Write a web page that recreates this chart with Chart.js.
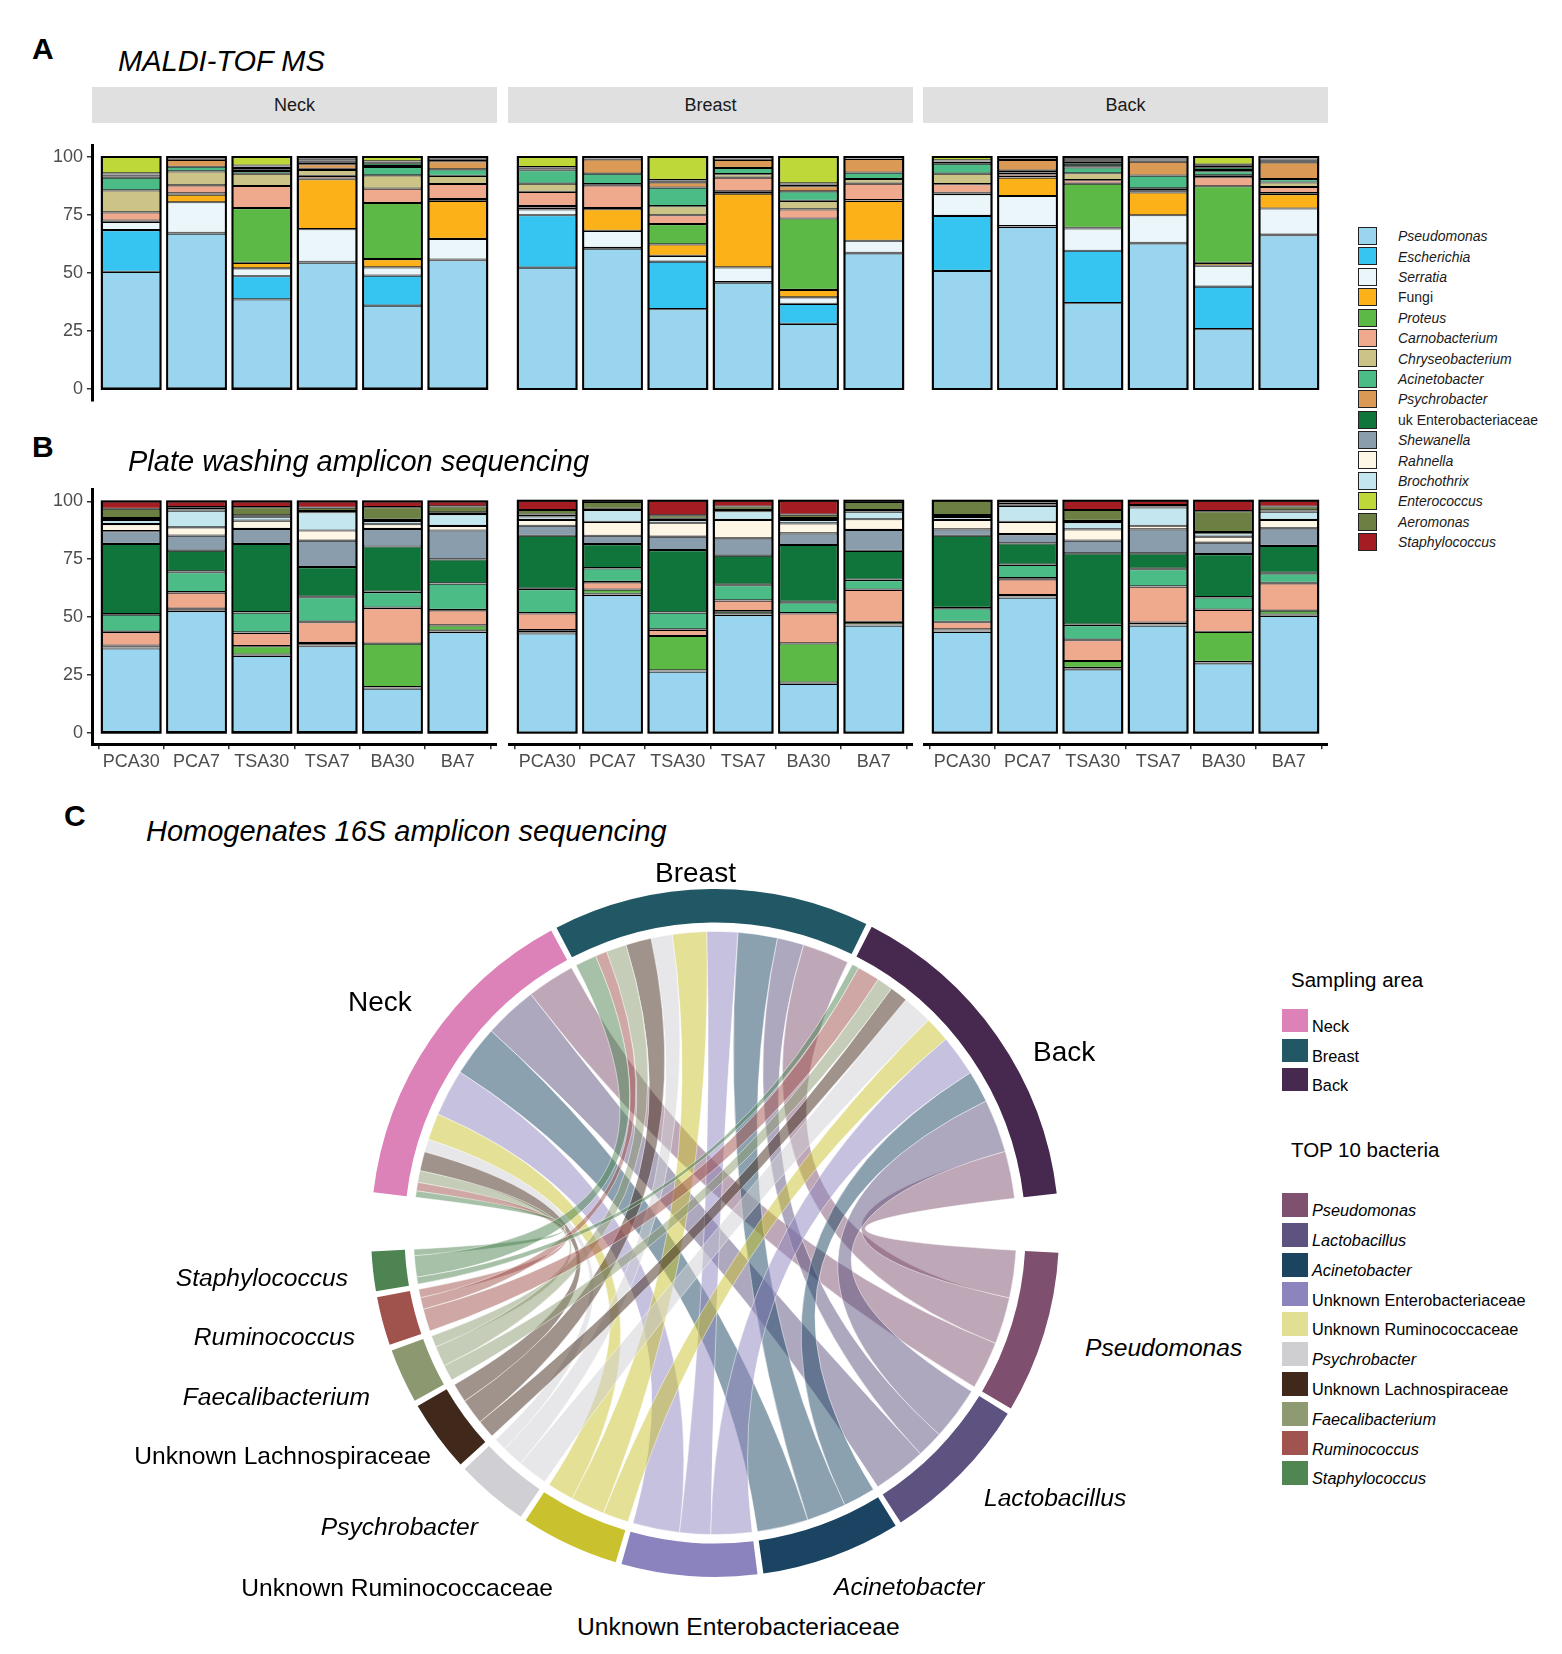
<!DOCTYPE html>
<html>
<head>
<meta charset="utf-8">
<script src="https://cdn.jsdelivr.net/npm/chart.js@4.4.1/dist/chart.umd.min.js"></script>
<style>
  body { margin: 0; width: 1562px; height: 1654px; position: relative; overflow: hidden;
         background: #fff; font-family: "Liberation Sans", Arial, sans-serif; color: #000; }
  .abs { position: absolute; white-space: nowrap; line-height: 1; z-index: 2; }
  canvas { position: absolute; z-index: 1; }
  .strip { position: absolute; top: 87px; height: 36px; width: 405px; background: #e0e0e0;
           display: flex; align-items: center; justify-content: center; font-size: 18px; color: #1a1a1a; }
  .key { position: absolute; box-sizing: border-box; z-index: 2; }
</style>
</head>
<body>

<div class="strip" style="left:92px">Neck</div>
<div class="strip" style="left:508px">Breast</div>
<div class="strip" style="left:923px">Back</div>

<canvas id="aNeck" width="457" height="290" style="left:40px;top:130px"></canvas>
<canvas id="aBreast" width="405" height="290" style="left:508px;top:130px"></canvas>
<canvas id="aBack" width="405" height="290" style="left:923px;top:130px"></canvas>

<canvas id="bNeck" width="457" height="310" style="left:40px;top:475px"></canvas>
<canvas id="bBreast" width="405" height="310" style="left:508px;top:475px"></canvas>
<canvas id="bBack" width="405" height="310" style="left:923px;top:475px"></canvas>

<canvas id="chord" width="720" height="720" style="left:355px;top:873px"></canvas>

<script>
// ---- panel A / B data: one row per sample, one value per taxon (bottom to top) ----
const samples = ["PCA30", "PCA7", "TSA30", "TSA7", "BA30", "BA7"];
const taxa = ["Pseudomonas", "Escherichia", "Serratia", "Fungi", "Proteus", "Carnobacterium",
  "Chryseobacterium", "Acinetobacter", "Psychrobacter", "uk Enterobacteriaceae", "Shewanella",
  "Rahnella", "Brochothrix", "Enterococcus", "Aeromonas", "Staphylococcus"];
const taxaColors = ["#9ad5ef", "#36c5f1", "#eaf6fa", "#fbb117", "#5cb946", "#efaa8e",
  "#ccc486", "#4cbc86", "#da9a55", "#10753b", "#8a9dac", "#fff7e6",
  "#c4e7ef", "#bfd839", "#6b8042", "#a31d22"];
const uprightTaxa = ["Fungi", "uk Enterobacteriaceae"];

const maldiNeck = [
  [50.5, 18, 3.5, 0.3, 0.3, 3.5, 9.5, 5.5, 0.5, 0.5, 0.3, 0.2, 0.3, 7.1, 0, 0],
  [67, 0.3, 13.2, 3.3, 0.5, 3.5, 6, 2, 3, 0.5, 0.3, 0.2, 0.2, 0, 0, 0],
  [38.6, 10, 3.4, 2.4, 23.6, 9.5, 5.3, 1.2, 0.5, 0.8, 0.5, 0.2, 0.3, 3.7, 0, 0],
  [54.5, 0.3, 14.1, 21.5, 0.3, 1.2, 2.5, 0.5, 2.0, 0.8, 0.5, 0.3, 0.3, 0.5, 0.3, 0.4],
  [35.9, 13, 3.5, 3.6, 24.2, 6.2, 5.7, 3.6, 0.4, 1.2, 0.4, 0.2, 0.2, 1.9, 0, 0],
  [55.5, 0.3, 8.9, 16.4, 0.8, 6.5, 3.5, 2.8, 3.5, 0.6, 0.3, 0.3, 0.2, 0.2, 0.2, 0]
];
const maldiBreast = [
  [52.3, 22.6, 2.5, 0.8, 0.7, 6.1, 3.5, 5.8, 0.3, 0.5, 0.2, 0.2, 0.2, 4.3, 0, 0],
  [60.5, 0.3, 7.4, 9.3, 0.5, 9.8, 0.5, 4.5, 6.2, 0.3, 0.2, 0.2, 0.1, 0.2, 0, 0],
  [34.4, 20.5, 2.5, 4.9, 8.8, 3.8, 3.9, 8.0, 2.3, 0.4, 0.2, 0.2, 0.2, 9.9, 0, 0],
  [45.8, 0.3, 6.3, 31.8, 1.0, 5.9, 1.5, 2.7, 3.5, 0.4, 0.2, 0.2, 0.2, 0.2, 0, 0],
  [28.1, 8.6, 2.8, 3.2, 30.8, 3.9, 3.7, 4.1, 2.2, 0.5, 0.3, 0.2, 0.2, 11.4, 0, 0],
  [58.5, 0.2, 5.2, 17.2, 0.3, 7.1, 2.0, 2.8, 5.9, 0.3, 0.2, 0.1, 0.1, 0.1, 0, 0]
];
const maldiBack = [
  [50.9, 23.7, 9.4, 0.3, 0.3, 3.7, 4.5, 4.3, 0.3, 0.5, 0.3, 0.2, 0.2, 1.4, 0, 0],
  [69.9, 0.3, 13, 7.9, 0.2, 1.2, 0.8, 0.8, 4.6, 0.4, 0.3, 0.2, 0.2, 0.2, 0, 0],
  [37, 22.6, 9.6, 0.3, 19, 1.5, 3, 2.5, 0.5, 1.1, 0.7, 0.4, 0.4, 0.4, 0.5, 0.5],
  [62.8, 0.2, 11.9, 9.8, 0.3, 0.5, 1.0, 5.5, 6.0, 0.5, 0.4, 0.4, 0.3, 0.2, 0, 0.2],
  [25.8, 18.3, 9.1, 1.2, 33, 3.9, 0.8, 1.8, 0.5, 1.2, 0.5, 0.3, 0.3, 3.3, 0, 0],
  [66.3, 0.2, 11.3, 6.2, 0.4, 2.7, 1.9, 1.5, 7.2, 0.5, 0.4, 0.3, 0.3, 0.3, 0.2, 0.3]
];

const plateNeck = [
  [36.4, 0.3, 0.3, 0.2, 0.5, 5.8, 0.2, 7.3, 0.3, 30.3, 5.5, 3.1, 1.8, 0.8, 4.0, 3.2],
  [52.6, 0.2, 0.2, 0.2, 0.4, 7.0, 0.2, 8.6, 0.3, 9.0, 6.5, 3.6, 7.2, 0.5, 1.0, 2.5],
  [33.2, 0.2, 0.2, 0.2, 3.6, 5.8, 0.2, 8.5, 0.2, 29.5, 6.5, 3.6, 1.7, 0.6, 3.5, 2.5],
  [37.4, 0.2, 0.2, 0.2, 0.8, 9.0, 0.2, 10.6, 0.2, 12.8, 11.4, 4.4, 7.9, 0.5, 1.5, 2.7],
  [19.1, 0.2, 0.2, 0.2, 18.8, 15.4, 0.2, 6.7, 0.2, 19.5, 7.6, 2.0, 1.4, 0.5, 5.5, 2.5],
  [43.5, 0.2, 0.2, 0.2, 2.3, 6.5, 0.2, 11.3, 0.2, 10.3, 12.5, 2.0, 5.1, 0.8, 2.5, 2.2]
];
const plateBreast = [
  [42.8, 0.2, 0.2, 0.2, 0.8, 7.2, 0.2, 10.3, 0.2, 22.8, 4.3, 2.5, 1.5, 0.8, 2.0, 4.0],
  [59.3, 0.2, 0.2, 0.2, 1.8, 3.1, 0.2, 5.8, 0.2, 10.3, 3.6, 6.0, 5.1, 0.5, 3.0, 0.5],
  [26.3, 0.2, 0.2, 0.2, 14.8, 2.6, 0.2, 7.2, 0.2, 26.8, 5.8, 6.0, 1.2, 0.5, 1.5, 6.3],
  [50.7, 0.2, 0.2, 0.2, 1.1, 4.5, 0.2, 6.5, 0.2, 12.5, 7.5, 7.9, 3.8, 0.5, 1.5, 2.5],
  [21, 0.2, 0.2, 0.2, 16.9, 12.9, 0.2, 4.6, 0.2, 24.5, 5.0, 4.3, 1.5, 0.8, 1.5, 6.0],
  [46.1, 0.2, 0.2, 0.2, 1.1, 13.7, 0.2, 4.1, 0.2, 12.4, 9.0, 4.6, 3.3, 0.7, 3.5, 0.5]
];
const plateBack = [
  [43.5, 0.2, 0.2, 0.2, 0.4, 3.1, 0.2, 5.8, 0.2, 31.1, 2.7, 4.1, 1.3, 0.8, 6.2, 0],
  [58.2, 0.2, 0.2, 0.2, 0.5, 6.8, 0.5, 5.7, 0.2, 9.1, 4.0, 5.3, 6.9, 0.6, 0.8, 0.8],
  [27.3, 0.2, 0.2, 0.2, 3.0, 9.0, 0.2, 6.3, 0.2, 30.7, 5.5, 4.8, 3.2, 0.5, 4.7, 4.0],
  [46.1, 0.2, 0.2, 0.2, 0.8, 15.4, 0.2, 7.4, 0.2, 6.6, 10.3, 1.6, 7.9, 0.4, 0.6, 1.9],
  [29.9, 0.2, 0.2, 0.2, 13, 9.4, 0.2, 5.2, 0.2, 18.5, 4.9, 2.6, 1.5, 0.5, 9.0, 4.5],
  [50.3, 0.2, 0.2, 0.2, 1.7, 11.8, 0.2, 4.1, 0.2, 11.6, 7.6, 3.6, 3.6, 0.5, 1.7, 2.5]
];
const yTicks = [0, 25, 50, 75, 100];

// ---- panel C data: chord links bacteria -> sampling area ----
const areas = ["Neck", "Breast", "Back"];
const areaColors = ["#dc82b8", "#225866", "#47284f"];
const bacteria = ["Pseudomonas", "Lactobacillus", "Acinetobacter", "Unknown Enterobacteriaceae",
  "Unknown Ruminococcaceae", "Psychrobacter", "Unknown Lachnospiraceae", "Faecalibacterium",
  "Ruminococcus", "Staphylococcus"];
const bacteriaColors = ["#7e4f6e", "#5d5280", "#1a4461", "#8b83be", "#c9c22e",
  "#d0cfd4", "#40281a", "#8c9970", "#a0524c", "#4e8451"];
const bacteriaKeyColors = ["#7f506f", "#5e5281", "#1b4461", "#8c84bc", "#e2de93",
  "#cfced1", "#40281a", "#8e9a71", "#a1534f", "#4f8652"];
const linkNeck = [9.0, 10, 9.6, 8.8, 5.0, 2.4, 3.6, 2.2, 1.6, 1.2];
const linkBreast = [8.8, 5.0, 7.4, 5.8, 6.4, 4.0, 4.8, 3.8, 2.2, 4.0];
const linkBack = [8.9, 10, 6.0, 7.7, 4.8, 5.6, 3.4, 3.0, 4.2, 1.3];

// ---------------------------------------------------------------
Chart.defaults.font.family = '"Liberation Sans", Arial, sans-serif';
Chart.defaults.animation = false;

function addText(str, x, base, size, o = {}) {
  const d = document.createElement("div");
  d.className = "abs";
  d.textContent = str;
  d.style.fontSize = size + "px";
  d.style.top = (base - 0.85 * size) + "px";
  if (o.right) d.style.right = (1562 - x) + "px";
  else d.style.left = x + "px";
  if (o.italic) d.style.fontStyle = "italic";
  if (o.bold) d.style.fontWeight = "bold";
  if (o.color) d.style.color = o.color;
  document.body.appendChild(d);
}

function addKey(x, y, w, h, color, border) {
  const k = document.createElement("div");
  k.className = "key";
  k.style.cssText += `left:${x}px;top:${y}px;width:${w}px;height:${h}px;background:${color};` +
    (border ? "border:1px solid #222;" : "");
  document.body.appendChild(k);
}

function fade(hex, a) {
  const n = parseInt(hex.slice(1), 16);
  return `rgba(${n >> 16},${(n >> 8) & 255},${n & 255},${a})`;
}

// black outline round every stacked column, like ggplot's colour = "black"
const outlinePlugin = {
  id: "outline",
  afterDatasetsDraw(chart) {
    const ctx = chart.ctx;
    const ys = chart.scales.y;
    const first = chart.getDatasetMeta(0).data;
    const rows = chart.config.options.rowsRef;
    ctx.save();
    ctx.strokeStyle = "#000";
    ctx.lineWidth = 2;
    first.forEach((el, i) => {
      const total = rows[i].reduce((s, v) => s + v, 0);
      const top = ys.getPixelForValue(total), bottom = ys.getPixelForValue(0);
      ctx.strokeRect(el.x - el.width / 2, top, el.width, bottom - top);
    });
    ctx.restore();
  }
};

const tickFont = { size: 18 };
const tickColor = "#4d4d4d";

function facetChart(id, rows, showY, showX, padTop, padBottom, xHeight) {
  const datasets = taxa.map((name, t) => ({
    label: name,
    data: rows.map((r, i) => ({ x: i + 1, y: r[t] || null })),
    backgroundColor: taxaColors[t],
    borderColor: "#000",
    borderWidth: 1.1,
    borderSkipped: false,
    inflateAmount: 0,
    barPercentage: 0.9,
    categoryPercentage: 1
  }));
  return new Chart(document.getElementById(id), {
    type: "bar",
    data: { datasets },
    plugins: [outlinePlugin],
    options: {
      rowsRef: rows,
      responsive: false,
      events: [],
      layout: { padding: { top: padTop, bottom: padBottom, left: 0, right: 0 } },
      plugins: { legend: { display: false }, tooltip: { enabled: false } },
      scales: {
        x: {
          type: "linear", min: 0.4, max: 6.6, offset: false, stacked: true, display: showX,
          afterBuildTicks: (s) => { s.ticks = samples.map((_, i) => ({ value: i + 1 })); },
          afterFit: (s) => { if (showX) s.height = xHeight; },
          ticks: { callback: (v) => samples[v - 1], font: tickFont, color: tickColor,
                   padding: 2, autoSkip: false, maxRotation: 0 },
          grid: { display: true, drawOnChartArea: false, drawTicks: true, tickLength: 5,
                  color: "#333", lineWidth: 1.5 },
          border: { display: true, color: "#000", width: 3 }
        },
        y: {
          min: -5, max: 105, stacked: true, display: showY,
          afterBuildTicks: (s) => { s.ticks = yTicks.map((v) => ({ value: v })); },
          afterFit: (s) => { if (showY) s.width = 52; },
          ticks: { font: tickFont, color: tickColor, padding: 4 },
          grid: { display: true, drawOnChartArea: false, drawTicks: true, tickLength: 5,
                  color: "#333", lineWidth: 1.5 },
          border: { display: true, color: "#000", width: 3 }
        }
      }
    }
  });
}

facetChart("aNeck", maldiNeck, true, false, 15.4, 19.4, 0);
facetChart("aBreast", maldiBreast, false, false, 15.4, 19.4, 0);
facetChart("aBack", maldiBack, false, false, 15.4, 19.4, 0);
facetChart("bNeck", plateNeck, true, true, 14.1, 0, 40.7);
facetChart("bBreast", plateBreast, false, true, 14.1, 0, 40.7);
facetChart("bBack", plateBack, false, true, 14.1, 0, 40.7);

// ---- chord diagram: sectors as a doughnut, links drawn from its arcs ----
const sum = (a) => a.reduce((s, v) => s + v, 0);
const links = [linkNeck, linkBreast, linkBack];
const totalsB = bacteria.map((_, k) => links.reduce((s, l) => s + l[k], 0));
const totalsA = links.map(sum);
const S = sum(totalsB);
const smallGapDeg = 1.0, bigGapDeg = 9.9;
const unitsPerDeg = 2 * S / (360 - 11 * smallGapDeg - 2 * bigGapDeg);
const chordValues = [], chordColors = [];
bacteria.forEach((_, k) => {
  chordValues.push(totalsB[k], (k < bacteria.length - 1 ? smallGapDeg : bigGapDeg) * unitsPerDeg);
  chordColors.push(bacteriaColors[k], "rgba(0,0,0,0)");
});
areas.forEach((_, j) => {
  chordValues.push(totalsA[j], (j < areas.length - 1 ? smallGapDeg : bigGapDeg) * unitsPerDeg);
  chordColors.push(areaColors[j], "rgba(0,0,0,0)");
});

const ribbonPlugin = {
  id: "ribbons",
  afterDatasetsDraw(chart) {
    const arcs = chart.getDatasetMeta(0).data;
    const cx = arcs[0].x, cy = arcs[0].y, r = arcs[0].innerRadius - 9;
    const aBase = 2 * bacteria.length;
    const bacSpan = bacteria.map((_, k) => {
      const arc = arcs[2 * k];
      const per = (arc.endAngle - arc.startAngle) / totalsB[k];
      let a = arc.startAngle;
      const out = [];
      for (let j = areas.length - 1; j >= 0; j--) {
        const w = links[j][k] * per;
        out[j] = [a, a + w];
        a += w;
      }
      return out;
    });
    const areaSpan = areas.map((_, j) => {
      const arc = arcs[aBase + 2 * j];
      const per = (arc.endAngle - arc.startAngle) / totalsA[j];
      let a = arc.startAngle;
      const out = [];
      for (let k = bacteria.length - 1; k >= 0; k--) {
        const w = links[j][k] * per;
        out[k] = [a, a + w];
        a += w;
      }
      return out;
    });
    const ctx = chart.ctx;
    ctx.save();
    bacteria.forEach((_, k) => {
      areas.forEach((_, j) => {
        const [s0, s1] = bacSpan[k][j];
        const [t0, t1] = areaSpan[j][k];
        ctx.beginPath();
        ctx.arc(cx, cy, r, s0, s1);
        ctx.quadraticCurveTo(cx, cy, cx + r * Math.cos(t0), cy + r * Math.sin(t0));
        ctx.arc(cx, cy, r, t0, t1);
        ctx.quadraticCurveTo(cx, cy, cx + r * Math.cos(s0), cy + r * Math.sin(s0));
        ctx.closePath();
        ctx.fillStyle = fade(bacteriaColors[k], 0.5);
        ctx.fill();
        ctx.strokeStyle = "rgba(255,255,255,0.6)";
        ctx.lineWidth = 0.8;
        ctx.stroke();
      });
    });
    ctx.restore();
  }
};

new Chart(document.getElementById("chord"), {
  type: "doughnut",
  data: { labels: chordValues.map((_, i) => i), datasets: [{
    data: chordValues, backgroundColor: chordColors, borderWidth: 0, hoverOffset: 0 }] },
  plugins: [ribbonPlugin],
  options: {
    responsive: false, events: [],
    radius: 344, cutout: 325, rotation: 93.3,
    layout: { padding: 0 },
    plugins: { legend: { display: false }, tooltip: { enabled: false } }
  }
});

// ---- titles and labels ----
addText("A", 32, 59, 30, { bold: true });
addText("MALDI-TOF MS", 118, 72, 29, { italic: true });
addText("B", 32, 457, 30, { bold: true });
addText("Plate washing amplicon sequencing", 128, 472, 29, { italic: true });
addText("C", 64, 826, 30, { bold: true });
addText("Homogenates 16S amplicon sequencing", 146, 842, 29, { italic: true });

// panel A/B legend
taxa.forEach((name, i) => {
  const cy = 236 + 20.4 * i;
  addKey(1358, cy - 9, 19, 18, taxaColors[i], true);
  addText(name, 1398, cy + 5, 14, { italic: !uprightTaxa.includes(name), color: "#1a1a1a" });
});

// chord labels
addText("Breast", 655, 883, 28);
addText("Neck", 348, 1012, 28);
addText("Back", 1033, 1062, 28);
addText("Pseudomonas", 1085, 1357, 24.6, { italic: true });
addText("Lactobacillus", 984, 1507, 24.6, { italic: true });
addText("Acinetobacter", 834, 1596, 24.6, { italic: true });
addText("Unknown Enterobacteriaceae", 577, 1636, 24.6);
addText("Unknown Ruminococcaceae", 553, 1597, 24.6, { right: true });
addText("Psychrobacter", 478, 1536, 24.6, { italic: true, right: true });
addText("Unknown Lachnospiraceae", 431, 1465, 24.6, { right: true });
addText("Faecalibacterium", 370, 1406, 24.6, { italic: true, right: true });
addText("Ruminococcus", 355, 1346, 24.6, { italic: true, right: true });
addText("Staphylococcus", 348, 1287, 24.6, { italic: true, right: true });

// chord legend
addText("Sampling area", 1291, 987, 20.5);
areas.forEach((name, j) => {
  const top = 1009 + 29.6 * j;
  addKey(1282, top, 26, 23, areaColors[j], false);
  addText(name, 1312, top + 23, 16.3);
});
addText("TOP 10 bacteria", 1291, 1157, 20.5);
bacteria.forEach((name, k) => {
  const top = 1193 + 29.8 * k;
  addKey(1282, top, 26, 24, bacteriaKeyColors[k], false);
  addText(name, 1312, top + 23, 16.3, { italic: !name.startsWith("Unknown") });
});
</script>
</body>
</html>
